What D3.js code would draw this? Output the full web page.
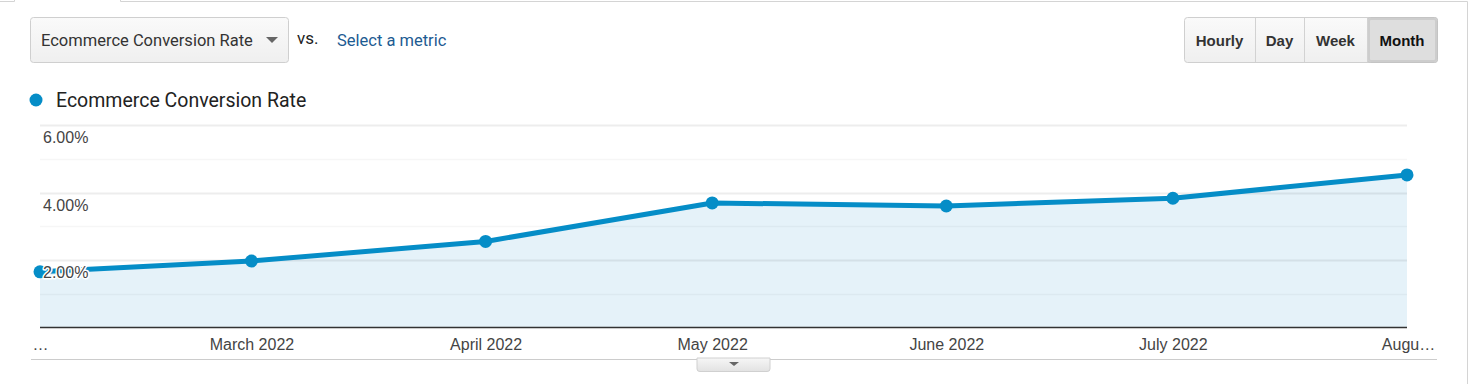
<!DOCTYPE html>
<html><head><meta charset="utf-8">
<script src="https://cdn.jsdelivr.net/npm/d3@7"></script>
<style>
html,body{margin:0;padding:0;background:#fff;}
svg{display:block;}
</style></head>
<body>
<svg id="c" width="1471" height="384"></svg>
<script>
const months = ["2022-02-01","2022-03-01","2022-04-01","2022-05-01","2022-06-01","2022-07-01","2022-08-01"];
const conversionRate = [1.65, 1.97, 2.55, 3.69, 3.60, 3.83, 4.52];
const xTickLabels = ["…","March 2022","April 2022","May 2022","June 2022","July 2022","Augu…"];
const yMajorTicks = [2, 4, 6];
const yMinorTicks = [1, 3, 5];
const intervalButtons = ["Hourly","Day","Week","Month"];
const seriesName = "Ecommerce Conversion Rate";

const svg = d3.select("#c");
const parse = d3.timeParse("%Y-%m-%d");
const data = months.map((m,i)=>({date:parse(m), v:conversionRate[i]}));

const x = d3.scaleTime().domain(d3.extent(data,d=>d.date)).range([40,1407]);
const y = d3.scaleLinear().domain([0,6]).range([327.5,125]);

const defs = svg.append("defs");
const g1 = defs.append("linearGradient").attr("id","btn").attr("x1",0).attr("y1",0).attr("x2",0).attr("y2",1);
g1.append("stop").attr("offset","0%").attr("stop-color","#fafafa");
g1.append("stop").attr("offset","100%").attr("stop-color","#efefef");
const g2 = defs.append("linearGradient").attr("id","tab").attr("x1",0).attr("y1",0).attr("x2",0).attr("y2",1);
g2.append("stop").attr("offset","0%").attr("stop-color","#f6f6f6");
g2.append("stop").attr("offset","100%").attr("stop-color","#e2e2e2");

// frame lines
svg.append("path").attr("d","M0,1.5H14.5V0M120.5,0V1.5H1467.5V384").attr("fill","none").attr("stroke","#d4d4d4").attr("stroke-width",1);

// dropdown
svg.append("rect").attr("x",30.5).attr("y",17.5).attr("width",258).attr("height",45).attr("rx",3)
  .attr("fill","url(#btn)").attr("stroke","#cfcfcf");
svg.append("text").attr("x",41).attr("y",46).text(seriesName)
  .attr("font-family","Roboto").attr("font-size",16.5).attr("fill","#333");
svg.append("path").attr("d","M266,37L278,37L272,43Z").attr("fill","#666");
svg.append("text").attr("x",297).attr("y",44).text("vs.")
  .attr("font-family","Roboto").attr("font-size",17).attr("fill","#222");
svg.append("text").attr("x",337).attr("y",46).text("Select a metric")
  .attr("font-family","Roboto").attr("font-size",16.5).attr("fill","#1d5b92");

// interval buttons
const bx = d3.scaleOrdinal().domain(intervalButtons).range([1184,1255,1304,1367]);
const bw = d3.scaleOrdinal().domain(intervalButtons).range([71,49,63,70]);
svg.append("rect").attr("x",1184.5).attr("y",17.5).attr("width",253).attr("height",45).attr("rx",3)
  .attr("fill","url(#btn)").attr("stroke","#cfcfcf");
const sel = "Month";
svg.append("rect").attr("x",bx(sel)+0.5).attr("y",17.5).attr("width",bw(sel)).attr("height",45).attr("rx",3)
  .attr("fill","#dedede").attr("stroke","#c4c4c4");
svg.append("rect").attr("x",bx(sel)+2).attr("y",19).attr("width",bw(sel)-3).attr("height",42).attr("rx",2)
  .attr("fill","none").attr("stroke","#cdcdcd").attr("stroke-width",2);
intervalButtons.forEach((b,i)=>{
  if(i>0) svg.append("line").attr("x1",bx(b)+0.5).attr("x2",bx(b)+0.5).attr("y1",18).attr("y2",62).attr("stroke","#d2d2d2");
  svg.append("text").attr("x",bx(b)+bw(b)/2).attr("y",46).attr("text-anchor","middle").text(b)
    .attr("font-family","Liberation Sans, Arial").attr("font-weight","bold").attr("font-size",15)
    .attr("fill", b===sel ? "#111" : "#333");
});

// legend
svg.append("circle").attr("cx",36).attr("cy",100).attr("r",6.5).attr("fill","#058dc7");
svg.append("text").attr("x",56).attr("y",107).text(seriesName)
  .attr("font-family","Roboto").attr("font-size",19.5).attr("fill","#222");

// area
const area = d3.area().x(d=>x(d.date)).y0(y(0)).y1(d=>y(d.v));
svg.append("path").datum(data).attr("d",area).attr("fill","#e5f2f9");

// gridlines
svg.selectAll(".gmaj").data(yMajorTicks).join("line")
  .attr("x1",40).attr("x2",1407).attr("y1",d=>Math.round(y(d))+0.5).attr("y2",d=>Math.round(y(d))+0.5)
  .attr("stroke","#000").attr("stroke-opacity",0.07).attr("stroke-width",2);
svg.selectAll(".gmin").data(yMinorTicks).join("line")
  .attr("x1",40).attr("x2",1407).attr("y1",d=>Math.round(y(d))+0.5).attr("y2",d=>Math.round(y(d))+0.5)
  .attr("stroke","#000").attr("stroke-opacity",0.035).attr("stroke-width",1.5);

// baseline
svg.append("line").attr("x1",40).attr("x2",1407).attr("y1",y(0)).attr("y2",y(0)).attr("stroke","#333").attr("stroke-width",1.5);

// line + points
const line = d3.line().x(d=>x(d.date)).y(d=>y(d.v));
svg.append("path").datum(data).attr("d",line).attr("fill","none").attr("stroke","#058dc7").attr("stroke-width",5).attr("stroke-linejoin","round");
svg.selectAll(".pt").data(data).join("circle").attr("cx",d=>x(d.date)).attr("cy",d=>y(d.v)).attr("r",6.5).attr("fill","#058dc7");

// y labels with halo
svg.selectAll(".yl").data(yMajorTicks).join("text")
  .attr("x",43).attr("y",d=>y(d)+18).text(d=>d3.format(".2f")(d)+"%")
  .attr("font-family","Liberation Sans, Arial").attr("font-size",16).attr("fill","#444")
  .attr("stroke","#fff").attr("stroke-width",3).attr("paint-order","stroke").attr("stroke-linejoin","round");

// x axis labels
const xAxis = d3.axisBottom(x).tickValues(data.map(d=>d.date)).tickSize(0).tickPadding(0)
  .tickFormat((d,i)=>xTickLabels[i]);
const ax = svg.append("g").attr("transform","translate(0,339)").call(xAxis);
ax.select(".domain").remove();
ax.selectAll("text").attr("font-family","Liberation Sans, Arial").attr("font-size",16).attr("fill","#444").attr("dy","0.71em");
ax.selectAll("text").filter((d,i)=>i===xTickLabels.length-1).attr("dx",1);

// bottom rule and tab
svg.append("line").attr("x1",31).attr("x2",1437).attr("y1",359.5).attr("y2",359.5).attr("stroke","#cccccc");
svg.append("path").attr("d","M697,358H770V369Q770,371.5 767,371.5H700Q697,371.5 697,369Z").attr("fill","url(#tab)").attr("stroke","#d0d0d0");
svg.append("path").attr("d","M729,362H739L734,366Z").attr("fill","#666");
</script>
</body></html>
